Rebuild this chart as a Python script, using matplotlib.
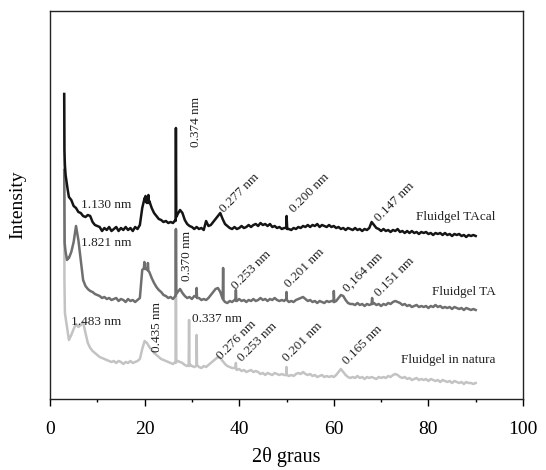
import numpy as np
import matplotlib
matplotlib.use("Agg")
import matplotlib.pyplot as plt
from matplotlib.ticker import MultipleLocator, NullLocator

plt.rcParams['font.family'] = ['Liberation Serif', 'DejaVu Serif']

# ---------------- data (arbitrary intensity units, traces stacked) ----------------
grid = np.arange(4.0, 90.01, 0.5)   # 2theta sampling of the main part of the scans

# Fluidgel TAcal (top trace)
tacal_head_x = [3.0, 3.05, 3.15, 3.3, 3.5, 3.75]
tacal_head_y = [305, 249, 234, 224, 217, 209]
tacal_vals = [
    202, 199, 193, 191, 187, 186, 183, 182, 184, 183,
    177, 174, 173, 172, 168, 171, 169, 172, 168, 170,
    172, 168, 171, 169, 172, 169, 171, 168, 172, 170,
    174, 191, 201, 196, 198, 191, 186, 183, 180, 179,
    177, 178, 176, 177, 176, 179, 185, 189, 186, 179,
    175, 173, 172, 170, 172, 170, 171, 169, 178, 173,
    174, 177, 180, 183, 186, 180, 175, 173, 171, 170,
    172, 170, 171, 173, 171, 172, 174, 172, 174, 175,
    173, 176, 174, 175, 173, 175, 172, 173, 171, 172,
    170, 171, 171, 170, 169, 171, 170, 172, 171, 173,
    172, 174, 172, 174, 173, 175, 172, 174, 173, 172,
    174, 172, 173, 171, 172, 170, 171, 169, 171, 170,
    169, 171, 169, 170, 168, 170, 169, 171, 177, 174,
    171, 170, 168, 170, 168, 169, 167, 169, 168, 170,
    167, 168, 166, 168, 166, 168, 166, 167, 165, 167,
    166, 167, 165, 166, 164, 166, 165, 166, 164, 166,
    164, 165, 163, 165, 164, 165, 163, 164, 162, 164,
    163, 164, 163]
tacal_spike_x = [20.1, 20.2, 20.3, 20.7, 20.8, 20.9, 26.55, 26.62, 26.7, 49.9, 50.02, 50.15]
tacal_spike_y = [199, 203, 197, 198, 204, 196, 178, 271, 182, 171, 183, 170]

# Fluidgel TA (middle trace)
ta_head_x = [3.0, 3.1, 3.3, 3.6, 3.8]
ta_head_y = [229, 156, 147, 139, 141]
ta_vals = [
    141, 147, 157, 173, 159, 139, 119, 113, 110, 108,
    107, 105, 104, 103, 101, 102, 100, 101, 99, 100,
    101, 98, 100, 99, 97, 100, 98, 99, 97, 99,
    101, 129, 132, 130, 127, 121, 116, 112, 109, 107,
    104, 103, 101, 102, 100, 103, 107, 110, 106, 103,
    101, 102, 100, 103, 102, 101, 99, 100, 99, 101,
    104, 107, 110, 111, 107, 100, 97, 96, 98, 97,
    99, 98, 100, 98, 99, 97, 99, 98, 100, 98,
    99, 101, 99, 100, 98, 100, 99, 101, 99, 98,
    99, 98, 100, 97, 98, 97, 99, 100, 101, 102,
    100, 98, 99, 97, 98, 96, 98, 97, 96, 98,
    97, 98, 97, 98, 101, 104, 103, 99, 96, 95,
    95, 94, 96, 94, 95, 93, 95, 94, 95, 96,
    94, 95, 93, 95, 94, 96, 95, 97, 98, 97,
    96, 94, 95, 93, 94, 92, 93, 94, 92, 93,
    92, 93, 91, 93, 92, 94, 92, 93, 91, 92,
    91, 92, 90, 92, 91, 90, 91, 89, 91, 90,
    89, 90, 89]
ta_spike_x = [19.85, 19.95, 20.05, 20.6, 20.7, 20.8, 26.55, 26.62, 26.7, 30.92, 31.0, 31.08,
              36.52, 36.6, 36.68, 39.22, 39.3, 39.38, 49.92, 50.0, 50.08,
              59.92, 60.0, 60.08, 68.0, 68.1, 68.2]
ta_spike_y = [131, 137, 130, 129, 136, 128, 103, 170, 105, 102, 111, 101,
              100, 131, 99, 99, 109, 98, 100, 107, 99,
              98, 108, 97, 95, 101, 95]

# Fluidgel in natura (bottom trace)
nat_head_x = [3.0, 3.05, 3.15, 3.4, 3.7]
nat_head_y = [305, 120, 86, 78, 68]
nat_vals = [
    59, 64, 70, 75, 72, 74, 77, 66, 56, 51,
    48, 46, 44, 42, 41, 40, 39, 38, 37, 38,
    36, 38, 37, 35, 37, 36, 38, 36, 37, 38,
    40, 50, 58, 56, 52, 49, 46, 44, 42, 40,
    39, 38, 37, 36, 35, 37, 38, 37, 36, 34,
    33, 35, 33, 32, 34, 32, 31, 33, 32, 34,
    36, 38, 40, 42, 41, 38, 35, 33, 32, 31,
    31, 29, 30, 28, 29, 27, 28, 29, 27, 28,
    27, 25, 26, 24, 26, 25, 24, 26, 25, 24,
    25, 24, 25, 23, 24, 23, 25, 26, 25, 27,
    25, 24, 25, 23, 24, 22, 23, 24, 22, 23,
    22, 23, 22, 24, 27, 30, 27, 24, 22, 21,
    22, 21, 23, 21, 22, 20, 22, 21, 22, 21,
    20, 22, 21, 22, 21, 23, 22, 24, 25, 24,
    22, 21, 22, 20, 21, 19, 20, 21, 19, 20,
    19, 20, 18, 20, 19, 18, 19, 17, 19, 18,
    17, 18, 16, 18, 17, 16, 17, 15, 17, 16,
    16, 15, 16]
nat_spike_x = [26.55, 26.62, 26.7, 29.32, 29.4, 29.48, 30.92, 31.0, 31.08,
               39.22, 39.3, 39.38, 49.92, 50.0, 50.08]
nat_spike_y = [36, 169, 37, 34, 79, 33, 33, 64, 34, 31, 36, 30, 24, 32, 24]

# peak annotations: (text, 2theta, intensity)
labels_h = [("1.130 nm", 6.55, 194), ("1.821 nm", 6.55, 156), ("1.483 nm", 4.44, 77),
            ("0.337 nm", 30.0, 80)]
labels_v = [("0.374 nm", 30.9, 277), ("0.370 nm", 29.0, 143), ("0.435 nm", 22.6, 72)]
labels_d = [("0.277 nm", 36.8, 186), ("0.200 nm", 51.6, 186), ("0.147 nm", 69.6, 177),
            ("0.253 nm", 39.3, 109), ("0.201 nm", 50.5, 111), ("0,164 nm", 62.8, 107),
            ("0.151 nm", 69.6, 102), ("0.276 nm", 36.2, 39), ("0.253 nm", 40.6, 37),
            ("0.201 nm", 50.1, 37), ("0.165 nm", 62.8, 34)]
series_names = [("Fluidgel TAcal", 77.4, 182), ("Fluidgel TA", 80.8, 107),
                ("Fluidgel in natura", 74.2, 39)]


def assemble(hx, hy, vals, sx, sy):
    x = np.concatenate([hx, grid, sx])
    y = np.concatenate([hy, vals, sy])
    order = np.argsort(x, kind="stable")
    return x[order], y[order]


fig = plt.figure(figsize=(5.46, 4.70), dpi=100)
ax = fig.add_axes([50 / 546, 1 - 399 / 470, 473 / 546, 388 / 470])

xn, yn = assemble(nat_head_x, nat_head_y, nat_vals, nat_spike_x, nat_spike_y)
xt, yt = assemble(ta_head_x, ta_head_y, ta_vals, ta_spike_x, ta_spike_y)
xc, yc = assemble(tacal_head_x, tacal_head_y, tacal_vals, tacal_spike_x, tacal_spike_y)
ax.plot(xn, yn, color="#c3c3c3", lw=1.8)
ax.plot(xt, yt, color="#6f6f6f", lw=1.8)
ax.plot(xc, yc, color="#151515", lw=1.8)

ax.set_xlim(0, 100)
ax.set_ylim(0, 388)
ax.xaxis.set_major_locator(MultipleLocator(20))
ax.xaxis.set_minor_locator(MultipleLocator(10))
ax.yaxis.set_major_locator(NullLocator())
ax.tick_params(axis="x", which="major", direction="out", length=5, width=1, labelsize=14, pad=11)
ax.tick_params(axis="x", which="minor", direction="out", length=2.5, width=1)
for s in ax.spines.values():
    s.set_linewidth(1.0)
    s.set_color("#222222")

ax.set_xlabel("2θ graus", fontsize=14.5, labelpad=6)
ax.set_ylabel("Intensity", fontsize=14, labelpad=17)

fs = 9.5
tc = "#222222"
for t, x, y in labels_h:
    ax.text(x, y, t, fontsize=fs, ha="left", va="center", color=tc)
for t, x, y in labels_v:
    ax.text(x, y, t, fontsize=fs, ha="center", va="center", rotation=90, color=tc)
for t, x, y in labels_d:
    ax.text(x, y, t, fontsize=fs, ha="left", va="baseline", rotation=45,
            rotation_mode="anchor", color=tc)
for t, x, y in series_names:
    ax.text(x, y, t, fontsize=fs, ha="left", va="center", color=tc)

fig.savefig("out.png", dpi=100)
